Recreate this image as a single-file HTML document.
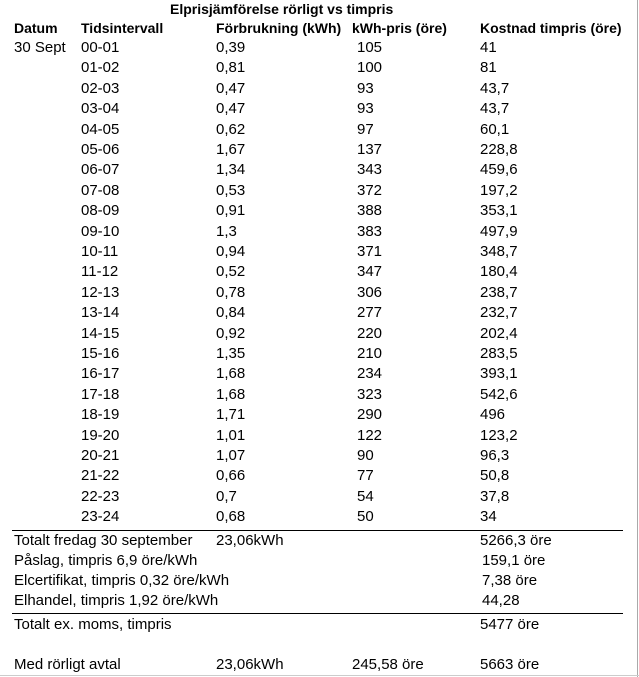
<!DOCTYPE html>
<html><head><meta charset="utf-8"><style>
body{margin:0;width:639px;height:677px;background:#fff;position:relative;overflow:hidden;font-family:"Liberation Sans",Arial,sans-serif;font-size:15px;color:#000}
.r{position:absolute;left:0;width:639px;height:18px;line-height:18px;white-space:nowrap}
.r span{position:absolute;top:0}
.b{font-weight:bold;font-size:14px}
.a{left:14px}.t{left:81px}.f{left:216px}.p{left:352px}.k{left:480px}.p2{left:357px}
.hl{position:absolute;height:1px;background:#000;left:12px;width:611px}
</style></head><body>
<div style="position:absolute;right:1px;top:0;width:1px;height:677px;background:#aaa"></div>
<div style="position:absolute;left:0;bottom:1px;width:639px;height:1px;background:#ccc"></div>
<div class="r b" style="top:0"><span style="left:170px">Elprisjämförelse rörligt vs timpris</span></div>
<div class="r b" style="top:19px"><span class="a">Datum</span><span class="t">Tidsintervall</span><span class="f">Förbrukning (kWh)</span><span class="p">kWh-pris (öre)</span><span class="k">Kostnad timpris (öre)</span></div>
<div class="r" style="top:39px"><span class="a">30 Sept</span><span class="t">00-01</span><span class="f">0,39</span><span class="p2">105</span><span class="k">41</span></div>
<div class="r" style="top:59.4px"><span class="t">01-02</span><span class="f">0,81</span><span class="p2">100</span><span class="k">81</span></div>
<div class="r" style="top:79.8px"><span class="t">02-03</span><span class="f">0,47</span><span class="p2">93</span><span class="k">43,7</span></div>
<div class="r" style="top:100.2px"><span class="t">03-04</span><span class="f">0,47</span><span class="p2">93</span><span class="k">43,7</span></div>
<div class="r" style="top:120.6px"><span class="t">04-05</span><span class="f">0,62</span><span class="p2">97</span><span class="k">60,1</span></div>
<div class="r" style="top:141px"><span class="t">05-06</span><span class="f">1,67</span><span class="p2">137</span><span class="k">228,8</span></div>
<div class="r" style="top:161.4px"><span class="t">06-07</span><span class="f">1,34</span><span class="p2">343</span><span class="k">459,6</span></div>
<div class="r" style="top:181.8px"><span class="t">07-08</span><span class="f">0,53</span><span class="p2">372</span><span class="k">197,2</span></div>
<div class="r" style="top:202.2px"><span class="t">08-09</span><span class="f">0,91</span><span class="p2">388</span><span class="k">353,1</span></div>
<div class="r" style="top:222.6px"><span class="t">09-10</span><span class="f">1,3</span><span class="p2">383</span><span class="k">497,9</span></div>
<div class="r" style="top:243px"><span class="t">10-11</span><span class="f">0,94</span><span class="p2">371</span><span class="k">348,7</span></div>
<div class="r" style="top:263.4px"><span class="t">11-12</span><span class="f">0,52</span><span class="p2">347</span><span class="k">180,4</span></div>
<div class="r" style="top:283.8px"><span class="t">12-13</span><span class="f">0,78</span><span class="p2">306</span><span class="k">238,7</span></div>
<div class="r" style="top:304.2px"><span class="t">13-14</span><span class="f">0,84</span><span class="p2">277</span><span class="k">232,7</span></div>
<div class="r" style="top:324.6px"><span class="t">14-15</span><span class="f">0,92</span><span class="p2">220</span><span class="k">202,4</span></div>
<div class="r" style="top:345px"><span class="t">15-16</span><span class="f">1,35</span><span class="p2">210</span><span class="k">283,5</span></div>
<div class="r" style="top:365.4px"><span class="t">16-17</span><span class="f">1,68</span><span class="p2">234</span><span class="k">393,1</span></div>
<div class="r" style="top:385.8px"><span class="t">17-18</span><span class="f">1,68</span><span class="p2">323</span><span class="k">542,6</span></div>
<div class="r" style="top:406.2px"><span class="t">18-19</span><span class="f">1,71</span><span class="p2">290</span><span class="k">496</span></div>
<div class="r" style="top:426.6px"><span class="t">19-20</span><span class="f">1,01</span><span class="p2">122</span><span class="k">123,2</span></div>
<div class="r" style="top:447px"><span class="t">20-21</span><span class="f">1,07</span><span class="p2">90</span><span class="k">96,3</span></div>
<div class="r" style="top:467.4px"><span class="t">21-22</span><span class="f">0,66</span><span class="p2">77</span><span class="k">50,8</span></div>
<div class="r" style="top:487.8px"><span class="t">22-23</span><span class="f">0,7</span><span class="p2">54</span><span class="k">37,8</span></div>
<div class="r" style="top:508.2px"><span class="t">23-24</span><span class="f">0,68</span><span class="p2">50</span><span class="k">34</span></div>
<div class="hl" style="top:530px"></div>
<div class="r" style="top:532px"><span class="a">Totalt fredag 30 september</span><span class="f">23,06kWh</span><span class="k">5266,3 öre</span></div>
<div class="r" style="top:552px"><span class="a">Påslag, timpris 6,9 öre/kWh</span><span style="left:482px">159,1 öre</span></div>
<div class="r" style="top:572px"><span class="a">Elcertifikat, timpris 0,32 öre/kWh</span><span style="left:482px">7,38 öre</span></div>
<div class="r" style="top:592px"><span class="a">Elhandel, timpris 1,92 öre/kWh</span><span style="left:482px">44,28</span></div>
<div class="hl" style="top:613px"></div>
<div class="r" style="top:616px"><span class="a">Totalt ex. moms, timpris</span><span class="k">5477 öre</span></div>
<div class="r" style="top:656px"><span class="a">Med rörligt avtal</span><span class="f">23,06kWh</span><span class="p">245,58 öre</span><span class="k">5663 öre</span></div>
</body></html>
